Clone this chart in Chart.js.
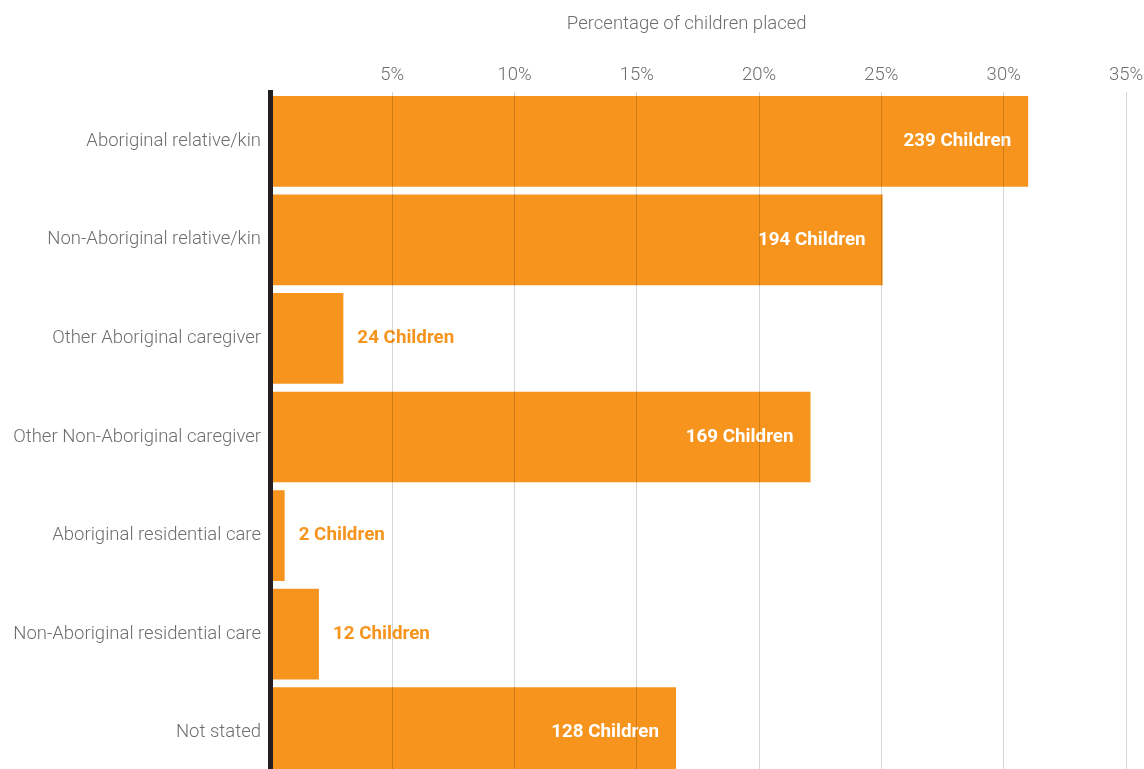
<!DOCTYPE html>
<html>
<head>
<meta charset="utf-8">
<script src="https://cdn.jsdelivr.net/npm/chart.js@4"></script>
<style>
  html, body { margin: 0; padding: 0; background: #fff; overflow: hidden; }
  #wrap { width: 1144px; height: 782px; position: relative; }
</style>
</head>
<body>
<div id="wrap"><canvas id="placementChart"></canvas></div>
<script>
// Données
const categories = [
  'Aboriginal relative/kin',
  'Non-Aboriginal relative/kin',
  'Other Aboriginal caregiver',
  'Other Non-Aboriginal caregiver',
  'Aboriginal residential care',
  'Non-Aboriginal residential care',
  'Not stated'
];
const percentPlaced = [31.0, 25.05, 3.0, 22.1, 0.6, 2.0, 16.6];
const childCounts = [239, 194, 24, 169, 2, 12, 128];
const tickValues = [0, 5, 10, 15, 20, 25, 30, 35];

const ORANGE = '#F7941D';
const GREY = '#6d6e71';

// Étiquettes "N Children" dessinées avant la grille
const countLabels = {
  id: 'countLabels',
  afterDatasetsDraw(chart) {
    const ctx = chart.ctx;
    const meta = chart.getDatasetMeta(0);
    ctx.save();
    ctx.font = '700 18.8px Roboto';
    ctx.textBaseline = 'middle';
    meta.data.forEach((bar, i) => {
      const txt = childCounts[i] + ' Children';
      if (percentPlaced[i] > 10) {
        ctx.fillStyle = '#fff';
        ctx.textAlign = 'right';
        ctx.fillText(txt, bar.x - 17, bar.y);
      } else {
        ctx.fillStyle = ORANGE;
        ctx.textAlign = 'left';
        ctx.fillText(txt, bar.x + 14, bar.y);
      }
    });
    ctx.restore();
  }
};

const ctx = document.getElementById('placementChart').getContext('2d');
const chart = new Chart(ctx, {
  type: 'bar',
  data: {
    labels: categories,
    datasets: [{
      data: percentPlaced,
      backgroundColor: ORANGE,
      borderWidth: 0,
      barPercentage: 0.92,
      categoryPercentage: 1
    }]
  },
  options: {
    indexAxis: 'y',
    responsive: true,
    maintainAspectRatio: false,
    animation: false,
    layout: { padding: { top: 0, right: 18, bottom: 0, left: 0 } },
    plugins: { legend: { display: false }, tooltip: { enabled: false } },
    scales: {
      x: {
        position: 'top',
        min: 0,
        max: 35,
        afterBuildTicks: (scale) => { scale.ticks = tickValues.map(v => ({ value: v })); },
        afterFit: (scale) => { scale.height = 92; scale.paddingLeft = 0; scale.paddingRight = 0; },
        grid: {
          z: 1,
          drawTicks: false,
          color: (c) => c.tick && c.tick.value === 0 ? 'rgba(0,0,0,0)' : 'rgba(0,0,0,0.17)',
          lineWidth: 1
        },
        border: { display: false },
        ticks: {
          padding: 6,
          color: GREY,
          font: { family: 'Roboto', size: 18.5, weight: '300' },
          callback: (v) => v === 0 ? '' : v + '%'
        },
        title: {
          display: true,
          text: 'Percentage of children placed     ',
          color: GREY,
          padding: { top: 13, bottom: 0 },
          font: { family: 'Roboto', size: 18.5, weight: '300' }
        }
      },
      y: {
        afterFit: (scale) => { scale.width = 270; scale.paddingTop = 0; scale.paddingBottom = 0; },
        grid: { display: false, drawTicks: false },
        border: { display: true, color: '#231f20', width: 5, z: 2 },
        ticks: {
          padding: 9,
          color: GREY,
          font: { family: 'Roboto', size: 18.5, weight: '300' }
        }
      }
    }
  },
  plugins: [countLabels]
});
</script>
</body>
</html>
